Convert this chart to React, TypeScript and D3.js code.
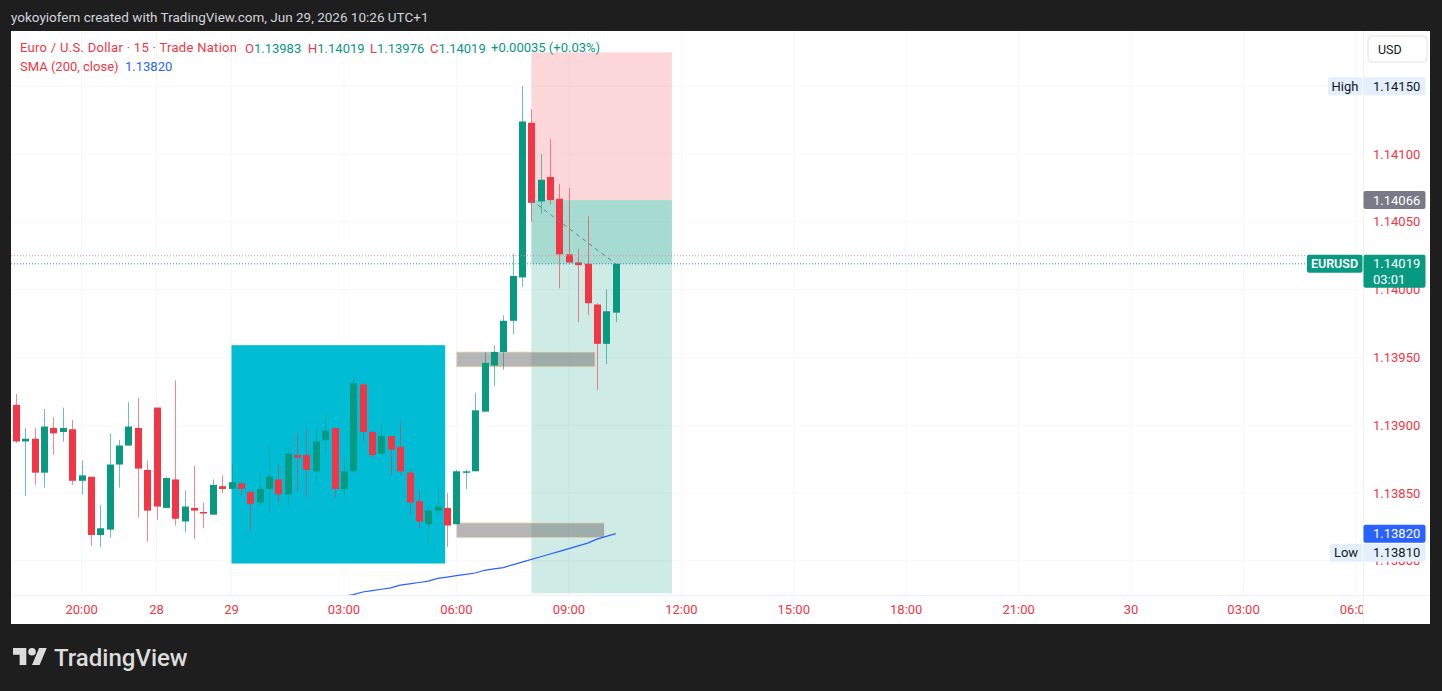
import React from "react";
import * as d3 from "d3";

// ---- data: EURUSD 15m bars (bar 0 = Jun 26 18:15 UTC+1) ----
const opens = [1.13915,1.13888,1.1389,1.13865,1.13898,1.13895,1.13897,1.13859,1.13862,1.13819,1.13823,1.13871,1.13885,1.13898,1.13867,1.13913,1.13839,1.1386,1.13829,1.13839,1.13836,1.13834,1.13855,1.13853,1.13857,1.13851,1.13843,1.13853,1.1386,1.13849,1.13878,1.13878,1.13866,1.13889,1.13898,1.13853,1.13866,1.1393,1.13895,1.13879,1.13892,1.13884,1.13865,1.13844,1.13827,1.13837,1.13839,1.13827,1.13865,1.13866,1.1391,1.13944,1.13954,1.13977,1.14009,1.14123,1.14065,1.14083,1.14067,1.14026,1.1402,1.14019,1.13989,1.1396,1.13983];
const highs = [1.13923,1.13898,1.13898,1.13912,1.13906,1.13913,1.13904,1.13874,1.13862,1.13841,1.13894,1.13889,1.13917,1.1392,1.13874,1.13913,1.13862,1.13933,1.13852,1.1387,1.13843,1.1386,1.13863,1.13871,1.13859,1.13851,1.13865,1.13885,1.13871,1.13884,1.13894,1.13897,1.13898,1.1391,1.13898,1.13876,1.13936,1.13931,1.13896,1.13902,1.13892,1.13902,1.13868,1.13852,1.1384,1.13854,1.1385,1.13867,1.13867,1.13924,1.13954,1.13959,1.13981,1.14026,1.1415,1.14133,1.141,1.14111,1.14078,1.14075,1.1403,1.14054,1.1399,1.14,1.14019];
const lows = [1.13887,1.13848,1.13856,1.13854,1.13878,1.13888,1.13856,1.13849,1.13811,1.1381,1.13817,1.13854,1.13885,1.13832,1.13814,1.1383,1.13839,1.13826,1.13821,1.13816,1.13824,1.13834,1.1385,1.13853,1.13848,1.13822,1.13841,1.13835,1.13843,1.13841,1.13851,1.13847,1.13857,1.13878,1.13847,1.13847,1.13866,1.13888,1.13876,1.13877,1.13863,1.13863,1.13834,1.13824,1.13812,1.13834,1.1381,1.13827,1.13853,1.13866,1.1391,1.13929,1.13941,1.13967,1.14002,1.1405,1.14056,1.14063,1.14001,1.1402,1.13976,1.13981,1.13926,1.13945,1.13976];
const closes = [1.13888,1.1389,1.13865,1.13899,1.13894,1.13898,1.13859,1.13863,1.13819,1.13824,1.13871,1.13885,1.13899,1.13868,1.13837,1.1384,1.13861,1.13831,1.1384,1.13837,1.13835,1.13856,1.13853,1.13858,1.13853,1.13842,1.13853,1.13862,1.13849,1.13879,1.13876,1.13867,1.13888,1.13896,1.13853,1.13866,1.13931,1.13895,1.13878,1.13892,1.13882,1.13866,1.13843,1.13829,1.13837,1.1384,1.13826,1.13866,1.13866,1.13911,1.13946,1.13954,1.13977,1.1401,1.14124,1.14064,1.14081,1.14066,1.14026,1.1402,1.14018,1.1399,1.1396,1.13984,1.14019];

// SMA(200) visible portion, starting at bar 34
const smaStart = 34;
const smaValues = [1.13773,1.13774,1.13775,1.13777,1.13778,1.13779,1.1378,1.13782,1.13783,1.13784,1.13785,1.13787,1.13788,1.13789,1.1379,1.13791,1.13793,1.13794,1.13795,1.13797,1.13799,1.13801,1.13803,1.13805,1.13807,1.13809,1.13811,1.13813,1.13816,1.13818,1.1382];

const timeTickBars = [7, 15, 23, 35, 47, 59, 71, 83, 95, 107, 119, 131, 143];
const timeTickLabels = ["20:00", "28", "29", "03:00", "06:00", "09:00", "12:00", "15:00", "18:00", "21:00", "30", "03:00", "06:00"];
const priceTicks = [1.138, 1.1385, 1.139, 1.1395, 1.14, 1.1405, 1.141, 1.1415];

// drawings
const cyanBox = { bar0: 23, bar1: 45.8, top: 1.13959, bottom: 1.13798 };
const greyZoneBars = [[47, 61.8], [47, 62.8]];
const greyZonePrices = [[1.13954, 1.13943], [1.13828, 1.13817]];
const positionBars = [55, 70];
const positionEntry = 1.14066;
const positionStop = 1.14175;
const positionTarget = 1.13776;
const prevCloseLevel = 1.14025;
const smaLast = 1.1382;
const highPrice = 1.1415;
const lowPrice = 1.1381;

const GREEN = "#089981";
const RED = "#f23645";
const FONT = "Roboto, 'Liberation Sans', sans-serif";

export default function App() {
  const W = 1442, H = 691;
  const panel = { x: 11, y: 31, r: 1430, b: 624 };
  const plot = { x: 11, y: 31, r: 1363, b: 595 };
  const x = d3.scaleLinear().domain([0, 143]).range([16, 1356]);
  const y = d3.scaleLinear().domain([1.138, 1.141]).range([560.8, 154]);
  const bw = 7;
  const fmt = (v: number) => v.toFixed(5);
  const n = closes.length;
  const lastPrice = closes[n - 1];

  const smaLine = d3
    .line<number>()
    .x((_, i) => x(smaStart + i))
    .y((d) => y(d));

  const legendItems = [
    { k: "O", v: opens[n - 1], x: 245 },
    { k: "H", v: highs[n - 1], x: 308 },
    { k: "L", v: lows[n - 1], x: 370 },
    { k: "C", v: closes[n - 1], x: 430 },
  ];
  const chg = closes[n - 1] - closes[n - 2];
  const chgPct = (chg / closes[n - 2]) * 100;

  const axisLabelX = 1373;
  const smaY = y(smaLast);
  const lowY = Math.max(y(lowPrice), smaY + 19);

  const priceBox = (yy: number, bg: string, fg: string, text: string, key: string) => (
    <g key={key}>
      <rect x={1363.5} y={yy - 9} width={62} height={18} rx={2} fill={bg} />
      <text x={axisLabelX} y={yy} dominantBaseline="central" fill={fg} fontSize={13} fontFamily={FONT}>
        {text}
      </text>
    </g>
  );

  return (
    <div style={{ position: "fixed", left: 0, top: 0, width: W, height: H }}>
      <svg width={W} height={H} style={{ display: "block" }}>
        <defs>
          <clipPath id="plotClip">
            <rect x={plot.x} y={plot.y} width={plot.r - plot.x} height={plot.b - plot.y} />
          </clipPath>
          <clipPath id="timeClip">
            <rect x={plot.x} y={plot.b} width={plot.r - plot.x} height={panel.b - plot.b} />
          </clipPath>
        </defs>
        <rect x={0} y={0} width={W} height={H} fill="#1e1e1e" />
        <text x={11} y={17} dominantBaseline="central" fill="#d1d4dc" fontSize={13.5} fontFamily={FONT}>
          yokoyiofem created with TradingView.com, Jun 29, 2026 10:26 UTC+1
        </text>

        {/* panel */}
        <rect x={panel.x} y={panel.y} width={panel.r - panel.x} height={panel.b - panel.y} fill="#ffffff" />

        {/* grid */}
        <g clipPath="url(#plotClip)">
          {timeTickBars.map((b, i) => (
            <line key={"vg" + i} x1={x(b)} x2={x(b)} y1={plot.y} y2={plot.b} stroke="#f6f7f9" />
          ))}
          {priceTicks.map((p, i) => (
            <line key={"hg" + i} x1={plot.x} x2={plot.r} y1={y(p)} y2={y(p)} stroke="#f6f7f9" />
          ))}
        </g>
        <line x1={plot.r + 0.5} x2={plot.r + 0.5} y1={plot.y} y2={panel.b} stroke="#f0f1f4" />
        <line x1={plot.x} x2={panel.r} y1={plot.b + 0.5} y2={plot.b + 0.5} stroke="#f0f1f4" />

        <g clipPath="url(#plotClip)">
          {/* cyan box */}
          <rect
            x={x(cyanBox.bar0)}
            y={y(cyanBox.top)}
            width={x(cyanBox.bar1) - x(cyanBox.bar0)}
            height={y(cyanBox.bottom) - y(cyanBox.top)}
            fill="#00bcd4"
          />
          {/* short position tool */}
          <rect
            x={x(positionBars[0])}
            y={y(positionStop)}
            width={x(positionBars[1]) - x(positionBars[0])}
            height={y(positionEntry) - y(positionStop)}
            fill="rgba(242,54,69,0.2)"
          />
          <rect
            x={x(positionBars[0])}
            y={y(positionEntry)}
            width={x(positionBars[1]) - x(positionBars[0])}
            height={y(positionTarget) - y(positionEntry)}
            fill="rgba(8,153,129,0.2)"
          />
          <rect
            x={x(positionBars[0])}
            y={y(positionEntry)}
            width={x(positionBars[1]) - x(positionBars[0])}
            height={y(lastPrice) - y(positionEntry)}
            fill="rgba(8,153,129,0.2)"
          />
          {/* grey zones */}
          {greyZoneBars.map((b, i) => (
            <rect
              key={"gz" + i}
              x={x(b[0])}
              y={y(greyZonePrices[i][0])}
              width={x(b[1]) - x(b[0])}
              height={y(greyZonePrices[i][1]) - y(greyZonePrices[i][0])}
              fill="rgba(110,110,110,0.5)"
              stroke="rgba(250,225,185,0.7)"
              strokeWidth={1}
            />
          ))}

          {/* candles */}
          {opens.map((o, i) => {
            const c = closes[i];
            const up = c >= o;
            const col = up ? GREEN : RED;
            const cx = Math.round(x(i)) + 0.5;
            const top = y(Math.max(o, c));
            const bot = y(Math.min(o, c));
            return (
              <g key={"c" + i}>
                <line x1={cx} x2={cx} y1={y(highs[i])} y2={y(lows[i])} stroke={col} strokeOpacity={0.6} strokeWidth={1} />
                <rect x={cx - bw / 2} y={top} width={bw} height={Math.max(1.5, bot - top)} fill={col} />
              </g>
            );
          })}

          {/* SMA */}
          <path d={smaLine(smaValues) || ""} fill="none" stroke="#2962ff" strokeWidth={1.2} />

          {/* dashed entry -> current line */}
          <line
            x1={x(positionBars[0])}
            y1={y(positionEntry)}
            x2={x(n - 1)}
            y2={y(lastPrice)}
            stroke="#787b86"
            strokeWidth={1}
            strokeDasharray="4 4"
          />

          {/* price lines */}
          <line x1={plot.x} x2={plot.r} y1={y(prevCloseLevel)} y2={y(prevCloseLevel)} stroke="#f28d97" strokeWidth={1} strokeDasharray="1 2" />
          <line x1={plot.x} x2={plot.r} y1={y(lastPrice)} y2={y(lastPrice)} stroke="#2b8fa8" strokeWidth={1} strokeDasharray="1 2" />
        </g>

        {/* legend */}
        <g fontFamily={FONT} fontSize={13}>
          <text x={20} y={47.5} dominantBaseline="central" fill={RED} textLength={217} lengthAdjust="spacing">
            Euro / U.S. Dollar · 15 · Trade Nation
          </text>
          {legendItems.map((it) => (
            <text key={it.k} x={it.x} y={47.5} dominantBaseline="central">
              <tspan fill={RED}>{it.k}</tspan>
              <tspan fill={GREEN}>{fmt(it.v)}</tspan>
            </text>
          ))}
          <text x={491} y={47.5} dominantBaseline="central" fill={GREEN}>
            {"+" + chg.toFixed(5) + " (+" + chgPct.toFixed(2) + "%)"}
          </text>
          <text x={20} y={66.5} dominantBaseline="central" fill={RED}>
            SMA (200, close)
          </text>
          <text x={125} y={66.5} dominantBaseline="central" fill="#2962ff">
            {fmt(smaLast)}
          </text>
        </g>

        {/* time axis */}
        <g fontFamily={FONT} fontSize={13} fill={RED} clipPath="url(#timeClip)">
          {timeTickBars.map((b, i) => (
            <text key={"t" + i} x={x(b)} y={609} textAnchor="middle" dominantBaseline="central">
              {timeTickLabels[i]}
            </text>
          ))}
        </g>

        {/* price axis */}
        <g fontFamily={FONT} fontSize={13} fill={RED}>
          {priceTicks.map((p, i) => (
            <text key={"p" + i} x={axisLabelX} y={y(p)} dominantBaseline="central">
              {fmt(p)}
            </text>
          ))}
        </g>

        {/* USD button */}
        <rect x={1368} y={36} width={59} height={26} rx={4} fill="#ffffff" stroke="#e0e3eb" />
        <text x={1378} y={49} dominantBaseline="central" fontSize={12.5} fontFamily={FONT} fill="#131722">
          USD
        </text>

        {/* High label */}
        <rect x={1328} y={y(highPrice) - 9} width={34.5} height={18} rx={2} fill="#e3effd" />
        <text x={1345} y={y(highPrice)} textAnchor="middle" dominantBaseline="central" fontSize={13} fontFamily={FONT} fill="#131722">
          High
        </text>
        {priceBox(y(highPrice), "#e3effd", "#131722", fmt(highPrice), "hi")}

        {priceBox(y(positionEntry), "#787b86", "#ffffff", fmt(positionEntry), "entry")}

        {/* EURUSD last price */}
        <rect x={1307} y={y(lastPrice) - 9} width={55.5} height={18} rx={2} fill={GREEN} />
        <text x={1334.5} y={y(lastPrice)} textAnchor="middle" dominantBaseline="central" fontSize={12.5} fontWeight={600} fontFamily={FONT} fill="#ffffff">
          EURUSD
        </text>
        <rect x={1363.5} y={y(lastPrice) - 9} width={62} height={33} rx={2} fill={GREEN} />
        <text x={axisLabelX} y={y(lastPrice)} dominantBaseline="central" fontSize={13} fontFamily={FONT} fill="#ffffff">
          {fmt(lastPrice)}
        </text>
        <text x={axisLabelX} y={y(lastPrice) + 16} dominantBaseline="central" fontSize={13} fontFamily={FONT} fill="#ffffff">
          03:01
        </text>

        {priceBox(smaY, "#2962ff", "#ffffff", fmt(smaLast), "sma")}

        {/* Low label */}
        <rect x={1330} y={lowY - 9} width={32.5} height={18} rx={2} fill="#e3effd" />
        <text x={1346} y={lowY} textAnchor="middle" dominantBaseline="central" fontSize={13} fontFamily={FONT} fill="#131722">
          Low
        </text>
        {priceBox(lowY, "#e3effd", "#131722", fmt(lowPrice), "lo")}

        {/* TradingView logo */}
        <g transform="translate(13,644.2) scale(0.95)" fill="#dcdcdc">
          <path d="M14 22H7V11H0V4h14v18zM28 22h-8l7.5-18h8L28 22z" />
          <circle cx={20} cy={8} r={4} />
        </g>
        <text x={54} y={658} dominantBaseline="central" fontSize={24} fontWeight={500} fontFamily={FONT} fill="#dcdcdc">
          TradingView
        </text>
      </svg>
    </div>
  );
}
